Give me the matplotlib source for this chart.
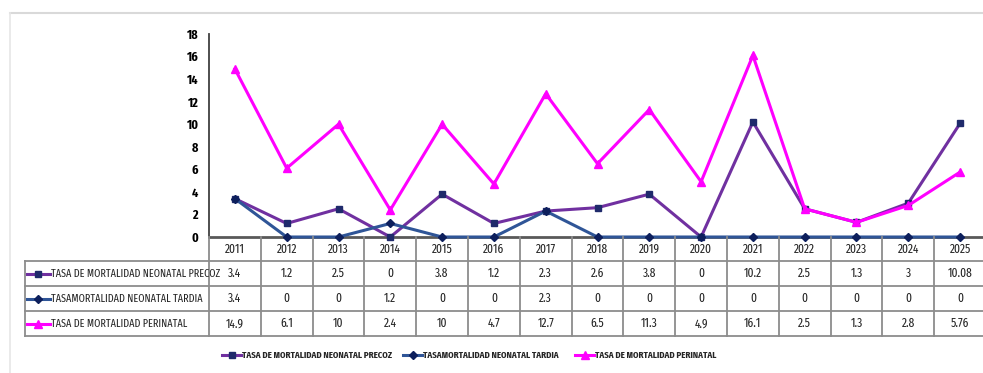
import matplotlib.pyplot as plt
from matplotlib.lines import Line2D

years = ['2011', '2012', '2013', '2014', '2015', '2016', '2017', '2018',
         '2019', '2020', '2021', '2022', '2023', '2024', '2025']
precoz = [3.4, 1.2, 2.5, 0, 3.8, 1.2, 2.3, 2.6, 3.8, 0, 10.2, 2.5, 1.3, 3, 10.08]
tardia = [3.4, 0, 0, 1.2, 0, 0, 2.3, 0, 0, 0, 0, 0, 0, 0, 0]
perinatal = [14.9, 6.1, 10, 2.4, 10, 4.7, 12.7, 6.5, 11.3, 4.9, 16.1, 2.5, 1.3, 2.8, 5.76]
precoz_txt = ['3.4', '1.2', '2.5', '0', '3.8', '1.2', '2.3', '2.6', '3.8', '0', '10.2', '2.5', '1.3', '3', '10.08']
tardia_txt = ['3.4', '0', '0', '1.2', '0', '0', '2.3', '0', '0', '0', '0', '0', '0', '0', '0']
perinatal_txt = ['14.9', '6.1', '10', '2.4', '10', '4.7', '12.7', '6.5', '11.3', '4.9', '16.1', '2.5', '1.3', '2.8', '5.76']
names = ['TASA DE MORTALIDAD NEONATAL PRECOZ',
         'TASAMORTALIDAD NEONATAL TARDIA',
         'TASA DE MORTALIDAD PERINATAL']

plt.rcParams['font.family'] = ['Fira Sans Extra Condensed', 'Liberation Sans', 'DejaVu Sans']

W, H = 983, 373
fig = plt.figure(figsize=(W / 100, H / 100), dpi=100)

def box(x0, y0, x1, y1):
    # pixel box (top-left origin) -> figure rect
    return [x0 / W, 1 - y1 / H, (x1 - x0) / W, (y1 - y0) / H]

# outer chart frame (top and left edges visible)
fig.add_artist(Line2D([10 / W, 1], [1 - 13 / H] * 2, color='#d9d9d9', lw=1.5))
fig.add_artist(Line2D([10 / W] * 2, [0, 1 - 13 / H], color='#e6e6e6', lw=1.2))

col_w = 51.8
x_left = 209
x_right = x_left + col_w * len(years)
ax = fig.add_axes(box(x_left, 34, x_right, 237))

styles = [
    dict(color='#7030a0', marker='s', ms=5, mfc='#1f2a6b', mec='#1f2a6b'),
    dict(color='#2f5597', marker='D', ms=3.8, mfc='#0d1f5c', mec='#0d1f5c'),
    dict(color='#ff00ff', marker='^', ms=5.5, mfc='#ff00ff', mec='#ff00ff'),
]
xs = range(len(years))
for vals, st in zip([precoz, tardia, perinatal], styles):
    ax.plot(xs, vals, lw=2.2, clip_on=False, zorder=3, **st)

ax.set_xlim(-0.5, len(years) - 0.5)
ax.set_ylim(0, 18)
ax.set_yticks(range(0, 19, 2))
ax.set_yticklabels([str(v) for v in range(0, 19, 2)], fontsize=9.5, fontweight='bold')
ax.tick_params(axis='y', length=0, pad=8)
ax.set_xticks([])
for s in ['top', 'right']:
    ax.spines[s].set_visible(False)
ax.spines['left'].set_color('#404040')
ax.spines['left'].set_linewidth(1.3)
ax.spines['bottom'].set_color('#595959')
ax.spines['bottom'].set_linewidth(2)

# data table under the plot, y in pixel units
tab = fig.add_axes(box(x_left, 237, x_right, 336))
tab.set_xlim(-0.5, len(years) - 0.5)
tab.set_ylim(336, 237)
tab.axis('off')
x_lab = -0.5 - (x_left - 25) / col_w
rows = [237, 261, 286, 311, 336]
grid = dict(color='#8c8c8c', lw=1.3, clip_on=False)
for i in range(len(years) + 1):
    tab.plot([i - 0.5, i - 0.5], [237, 336], **grid)
tab.plot([x_lab, x_lab], [261, 336], **grid)
for r in rows[1:]:
    tab.plot([x_lab, len(years) - 0.5], [r, r], **grid)

for i, y in enumerate(years):
    tab.text(i, 249, y, ha='center', va='center', fontsize=9, color='#262626')
for r, (txts, st, name) in enumerate(zip([precoz_txt, tardia_txt, perinatal_txt], styles, names)):
    yc = (rows[r + 1] + rows[r + 2]) / 2
    for i, t in enumerate(txts):
        tab.text(i, yc, t, ha='center', va='center', fontsize=9, color='#262626')
    lx = x_lab + 0.04
    tab.plot([lx, lx + 0.22, lx + 0.44], [yc] * 3, lw=2.2, clip_on=False,
             markevery=[1], **st)
    tab.text(lx + 0.47, yc, name, ha='left', va='center', fontsize=7.9,
             color='#262626', clip_on=False)

# legend row at the bottom
leg_x = [222, 403, 575]
yy = 1 - 355 / H
for lx, st, name in zip(leg_x, styles, names):
    fig.add_artist(Line2D([lx / W, (lx + 9.5) / W, (lx + 19) / W], [yy] * 3,
                          lw=2.2, markevery=[1], **st))
    fig.text((lx + 20) / W, yy, name, ha='left', va='center', fontsize=6.9,
             fontweight='bold', color='#262626')

fig.savefig('out.png', dpi=100)
